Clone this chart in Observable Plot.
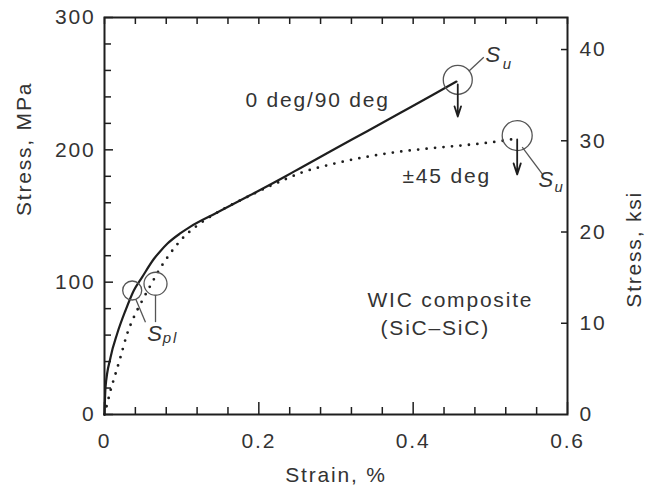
<!DOCTYPE html>
<html>
<head>
<meta charset="utf-8">
<script src="https://cdn.jsdelivr.net/npm/d3@7"></script>
<script src="https://cdn.jsdelivr.net/npm/@observablehq/plot@0.6"></script>
<style>
  html, body { margin: 0; padding: 0; background: #fff; }
</style>
</head>
<body>
<div id="chart"></div>
<script>
// ---- data ----
// 0 deg/90 deg curve (solid)
const strain0_90 = [0, 0.0013, 0.0078, 0.0165, 0.0272, 0.038, 0.0488, 0.0639, 0.0726, 0.0813, 0.0985, 0.1114, 0.146, 0.1892, 0.2324, 0.254, 0.2971, 0.3404, 0.3836, 0.4263, 0.4561];
const stress0_90 = [0, 20.4, 43.1, 61.2, 78.6, 93.7, 103.8, 117.5, 123.6, 129.0, 137.0, 142.0, 152.6, 165.8, 179.3, 186.3, 200.2, 214.1, 228.0, 241.8, 251.6];
// +/-45 deg curve (dotted)
const strain45 = [0, 0.0035, 0.0078, 0.0143, 0.0207, 0.0294, 0.038, 0.0489, 0.0596, 0.0704, 0.0833, 0.0985, 0.1244, 0.146, 0.1892, 0.2324, 0.254, 0.2971, 0.3404, 0.3836, 0.4267, 0.47, 0.5154, 0.5313];
const stress45 = [0, 8.1, 18.1, 30.8, 43.3, 61.0, 73.5, 86.1, 97.5, 108.8, 120.2, 131.5, 144.6, 152.6, 165.6, 177.3, 182.5, 189.5, 194.8, 198.7, 201.4, 203.7, 206.8, 208.3];

// marker circles (Su, Su, Spl, Spl)
const circleStrain = [0.4578, 0.5348, 0.0359, 0.0661];
const circleStress = [252.9, 210.8, 93.7, 98.8];
const circleR = [14.5, 15, 9.5, 11.5];

// failure arrows
const arrowStrain = [0.4578, 0.5348];
const arrowFrom = [249.4, 207.8];
const arrowTo = [225.2, 181.4];

// leader lines
const leadX1 = [0.472, 0.5413, 0.0407, 0.0661];
const leadY1 = [259.4, 202.0, 86.9, 89.9];
const leadX2 = [0.4915, 0.5672, 0.0531, 0.0661];
const leadY2 = [270.0, 181.9, 69.8, 69.8];

// symbol labels
const symMain = ["S", "S", "S"];
const symMainX = [0.4937, 0.5625, 0.0553];
const symMainY = [266.2, 171.8, 55.9];
const symSub = ["u", "u", "pl"];
const symSubX = [0.5162, 0.5831, 0.0756];
const symSubY = [261.2, 168.0, 53.7];

// annotations
const noteText = ["0 deg/90 deg", "±45 deg", "WIC composite", "(SiC–SiC)"];
const noteX = [0.1827, 0.3862, 0.3408, 0.3577];
const noteY = [232.0, 174.6, 81.6, 59.7];

// ticks
const xMajor = [0, 0.2, 0.4, 0.6];
const xMinor = [0.04, 0.08, 0.12, 0.16, 0.24, 0.28, 0.32, 0.36, 0.44, 0.48, 0.52, 0.56];
const yMajor = [0, 100, 200, 300];
const yMinor = [20, 40, 60, 80, 120, 140, 160, 180, 220, 240, 260, 280];
const ksiTicks = [0, 10, 20, 30, 40];
const KSI = 6.894757; // MPa per ksi

// ---- layout ----
const W = 646, H = 487;
const mL = 104, mR = 79, mT = 17, mB = 73;
const plotH = H - mT - mB, plotW = W - mL - mR;

const ink = "#1e1e1e";
const gray = "#555";

const curve0 = strain0_90.map((s, i) => ({s, v: stress0_90[i]}));
const curve45 = strain45.map((s, i) => ({s, v: stress45[i]}));
const circles = circleStrain.map((s, i) => ({s, v: circleStress[i], r: circleR[i]}));
const arrows = arrowStrain.map((s, i) => ({s, a: arrowFrom[i], b: arrowTo[i]}));
const leads = leadX1.map((x1, i) => ({x1, y1: leadY1[i], x2: leadX2[i], y2: leadY2[i]}));
const syms = symMain.map((t, i) => ({t, x: symMainX[i], y: symMainY[i], sub: symSub[i], sx: symSubX[i], sy: symSubY[i]}));
const notes = noteText.map((t, i) => ({t, x: noteX[i], y: noteY[i]}));
const ksiRight = ksiTicks.filter(k => k > 0).map(k => k * KSI);

const chart = Plot.plot({
  width: W,
  height: H,
  marginLeft: mL,
  marginRight: mR,
  marginTop: mT,
  marginBottom: mB,
  style: {
    fontFamily: "'Liberation Sans', Arial, Helvetica, sans-serif",
    fontSize: "21px",
    color: "#333",
    letterSpacing: "1.8px",
    background: "#fff"
  },
  x: {domain: [0, 0.6]},
  y: {domain: [0, 300]},
  r: {type: "identity"},
  marks: [
    // inward ticks: bottom
    Plot.tickX(xMinor, {stroke: ink, strokeWidth: 1.5, insetTop: plotH - 7}),
    Plot.tickX(xMajor, {stroke: ink, strokeWidth: 1.5, insetTop: plotH - 12}),
    // top
    Plot.tickX(xMinor.concat(xMajor), {stroke: ink, strokeWidth: 1.5, insetBottom: plotH - 7}),
    // left
    Plot.tickY(yMinor, {stroke: ink, strokeWidth: 1.5, insetRight: plotW - 7}),
    Plot.tickY(yMajor, {stroke: ink, strokeWidth: 1.5, insetRight: plotW - 9}),
    // right (ksi)
    Plot.tickY(ksiRight, {stroke: ink, strokeWidth: 1.5, insetLeft: plotW - 6}),
    Plot.frame({stroke: ink, strokeWidth: 2}),
    // axes labels
    Plot.axisX(xMajor, {anchor: "bottom", tickSize: 0, tickPadding: 19, label: null, tickFormat: d => String(d)}),
    Plot.axisY(yMajor, {anchor: "left", tickSize: 0, tickPadding: 9, label: null, tickFormat: d => String(d)}),
    Plot.axisY(ksiTicks.map(k => k * KSI), {anchor: "right", tickSize: 0, tickPadding: 12, label: null, tickFormat: d => String(Math.round(d / KSI))}),
    Plot.text(["Stress, MPa"], {frameAnchor: "left", rotate: -90, dx: -80, fill: "#333"}),
    Plot.text(["Stress, ksi"], {frameAnchor: "right", rotate: -90, dx: 67, dy: -25, fill: "#333"}),
    Plot.text(["Strain, %"], {frameAnchor: "bottom", lineAnchor: "bottom", dy: 67, fill: "#333"}),
    // curves
    Plot.line(curve0, {x: "s", y: "v", stroke: ink, strokeWidth: 2.2, curve: "monotone-x"}),
    Plot.line(curve45, {x: "s", y: "v", stroke: ink, strokeWidth: 2.8, strokeDasharray: "0,8.5", strokeLinecap: "round", curve: "monotone-x"}),
    // circles, arrows, leaders
    Plot.dot(circles, {x: "s", y: "v", r: "r", stroke: gray, strokeWidth: 1.3, fill: "none"}),
    Plot.link(leads, {x1: "x1", y1: "y1", x2: "x2", y2: "y2", stroke: gray, strokeWidth: 1.3}),
    Plot.arrow(arrows, {x1: "s", y1: "a", x2: "s", y2: "b", stroke: ink, strokeWidth: 1.8, headLength: 11, headAngle: 36}),
    // symbol labels
    Plot.text(syms, {x: "x", y: "y", text: "t", textAnchor: "start", lineAnchor: "bottom", fontStyle: "italic", fontSize: 22, fill: "#333"}),
    Plot.text(syms, {x: "sx", y: "sy", text: "sub", textAnchor: "start", lineAnchor: "bottom", fontStyle: "italic", fontSize: 15, fill: "#333"}),
    // annotations
    Plot.text(notes, {x: "x", y: "y", text: "t", textAnchor: "start", lineAnchor: "bottom", fill: "#333"})
  ]
});
document.getElementById("chart").appendChild(chart);
</script>
</body>
</html>
